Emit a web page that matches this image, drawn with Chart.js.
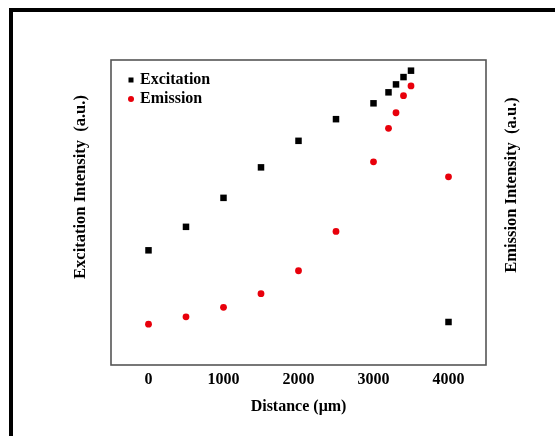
<!DOCTYPE html>
<html>
<head>
<meta charset="utf-8">
<script src="https://cdn.jsdelivr.net/npm/chart.js@4/dist/chart.umd.min.js"></script>
<style>
  html, body { margin: 0; padding: 0; background: #fff; }
  #wrap { position: relative; width: 555px; height: 436px; overflow: hidden; }
  #frame { position: absolute; left: 9px; top: 8px; right: -10px; bottom: -10px;
           border-left: 4px solid #000; border-top: 4px solid #000; pointer-events: none; }
  canvas { position: absolute; left: 0; top: 0; }
</style>
</head>
<body>
<div id="wrap">
  <canvas id="c" width="555" height="436"></canvas>
  <div id="frame"></div>
</div>
<script>
// ---- data ----
const distances  = [0, 500, 1000, 1500, 2000, 2500, 3000, 3200, 3300, 3400, 3500, 4000];
const excitation = [37.6, 45.3, 54.8, 64.8, 73.5, 80.6, 85.8, 89.4, 92.0, 94.4, 96.5, 14.1];
const emission   = [13.4, 15.8, 18.9, 23.4, 30.9, 43.8, 66.6, 77.6, 82.7, 88.3, 91.5, 61.7];
const xTickValues = [0, 1000, 2000, 3000, 4000];
const seriesNames = ['Excitation', 'Emission'];
const xTitle = 'Distance (\u03bcm)';
const yLeftTitle = 'Excitation Intensity  (a.u.)';
const yRightTitle = 'Emission Intensity  (a.u.)';

const FONT = '"Liberation Serif", "Times New Roman", serif';
const RED = '#e8000b';

const toPoints = (xs, ys) => xs.map((x, i) => ({ x: x, y: ys[i] }));

const boxPlugin = {
  id: 'box',
  beforeDatasetsDraw(chart) {
    const a = chart.chartArea, ctx = chart.ctx;
    ctx.save();
    ctx.strokeStyle = '#555';
    ctx.lineWidth = 1.6;
    ctx.strokeRect(a.left, a.top, a.right - a.left, a.bottom - a.top);
    ctx.restore();
  }
};

const yTitlesPlugin = {
  id: 'yTitles',
  afterDraw(chart) {
    const ctx = chart.ctx;
    ctx.save();
    ctx.fillStyle = '#000';
    ctx.font = 'bold 16.5px ' + FONT;
    ctx.textAlign = 'center';
    ctx.textBaseline = 'middle';
    [[yLeftTitle, 81, 187], [yRightTitle, 512, 185]].forEach(([t, x, y]) => {
      ctx.save();
      ctx.translate(x, y);
      ctx.rotate(-Math.PI / 2);
      ctx.fillText(t, 0, 0);
      ctx.restore();
    });
    ctx.restore();
  }
};

const legendPlugin = {
  id: 'innerLegend',
  afterDraw(chart) {
    const a = chart.chartArea, ctx = chart.ctx;
    ctx.save();
    ctx.font = 'bold 16px ' + FONT;
    ctx.textBaseline = 'middle';
    ctx.textAlign = 'left';
    chart.data.datasets.forEach((ds, i) => {
      const cx = a.left + 20, cy = a.top + 20 + i * 19;
      ctx.fillStyle = ds.backgroundColor;
      if (ds.pointStyle === 'rect') {
        ctx.fillRect(cx - 2.5, cy - 2.5, 5, 5);
      } else {
        ctx.beginPath();
        ctx.arc(cx, cy, 3, 0, Math.PI * 2);
        ctx.fill();
      }
      ctx.fillStyle = '#000';
      ctx.fillText(ds.label, cx + 9, cy);
    });
    ctx.restore();
  }
};

new Chart(document.getElementById('c'), {
  type: 'scatter',
  data: {
    datasets: [
      { label: seriesNames[0], data: toPoints(distances, excitation), yAxisID: 'y',
        pointStyle: 'rect', pointRadius: 4.6, pointHoverRadius: 4.6,
        backgroundColor: '#000', borderColor: '#000', borderWidth: 0 },
      { label: seriesNames[1], data: toPoints(distances, emission), yAxisID: 'y1',
        pointStyle: 'circle', pointRadius: 3.4, pointHoverRadius: 3.4,
        backgroundColor: RED, borderColor: RED, borderWidth: 0 }
    ]
  },
  options: {
    responsive: false,
    animation: false,
    events: [],
    layout: { padding: { top: 60, left: 0, right: 0, bottom: 0 } },
    plugins: { legend: { display: false }, tooltip: { enabled: false } },
    scales: {
      x: {
        type: 'linear', position: 'bottom', min: -500, max: 4500,
        afterBuildTicks(scale) { scale.ticks = xTickValues.map(v => ({ value: v })); },
        afterFit(scale) { scale.height = 71; },
        grid: { display: false, drawTicks: false },
        border: { display: false },
        ticks: { color: '#000', padding: 5, maxRotation: 0, autoSkip: false,
                 callback: (v) => String(v),
                 font: { family: FONT, size: 16, weight: 'bold' } },
        title: { display: true, text: xTitle, color: '#000',
                 font: { family: FONT, size: 16, weight: 'bold' },
                 padding: { top: 20, bottom: 20 } }
      },
      y: {
        type: 'linear', position: 'left', min: 0, max: 100,
        afterFit(scale) { scale.width = 111; },
        grid: { display: false, drawTicks: false },
        border: { display: false },
        ticks: { display: false }
      },
      y1: {
        type: 'linear', position: 'right', min: 0, max: 100,
        afterFit(scale) { scale.width = 69; },
        grid: { display: false, drawTicks: false },
        border: { display: false },
        ticks: { display: false }
      }
    }
  },
  plugins: [boxPlugin, yTitlesPlugin, legendPlugin]
});
</script>
</body>
</html>
